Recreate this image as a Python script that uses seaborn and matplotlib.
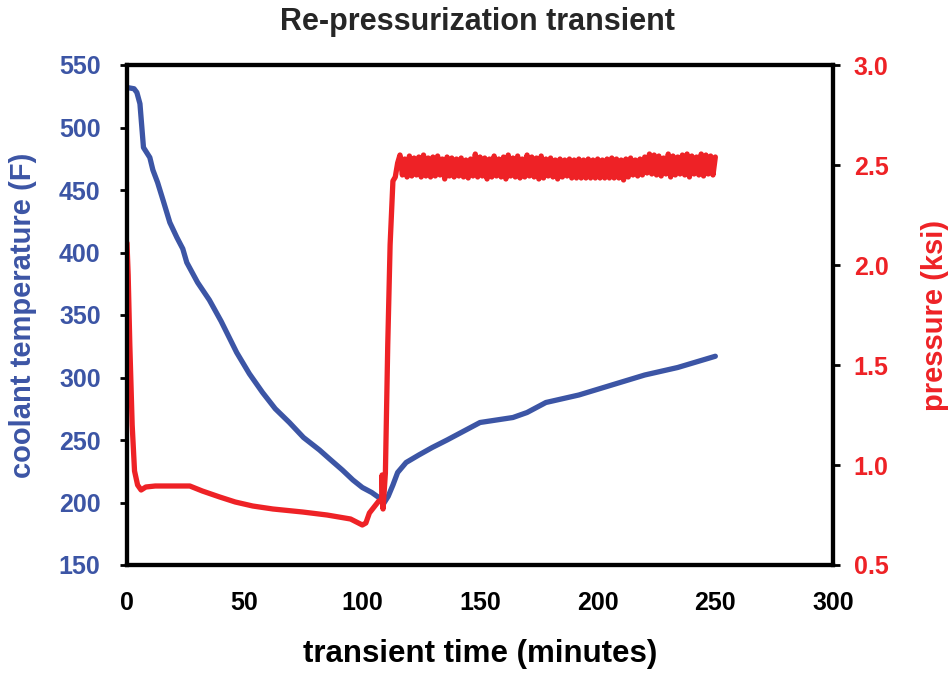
import numpy as np
import pandas as pd
import seaborn as sns
import matplotlib
matplotlib.use("Agg")
import matplotlib.pyplot as plt

# coolant temperature (F) vs transient time (minutes)
temp_time = [0, 3, 4.2, 5.5, 6.4, 7, 9.7, 11, 13, 15.3, 18.2, 21.2, 23.7, 25.4, 30, 35, 40,
             46.6, 52, 57.6, 63, 69, 75, 81.8, 86, 91.5, 96, 100, 104, 107, 109, 111, 113,
             115, 118.6, 124, 129.7, 136, 144, 150, 164, 170, 178, 192, 206, 220, 234, 250]
temp_vals = [532, 531, 528, 519, 498, 484, 476, 466, 456, 442, 424, 412, 403, 392, 376, 362, 345,
             320, 303, 288, 275, 264, 252, 242, 235, 226, 218, 212, 208, 204, 199, 205, 214,
             224, 232, 238, 244, 250, 258, 264, 268, 272, 280, 286, 294, 302, 308, 317]

# pressure (ksi) before the plateau
press_time = [0, 0.5, 1.2, 2.2, 3.2, 4.5, 6, 8, 12, 20, 26.7, 32, 39.4, 46, 53.4, 62, 74.6,
              85, 95, 100, 101.5, 103, 107, 108.2, 108.4, 108.8, 109.8, 110.8, 111.8, 113,
              114, 115]
press_vals = [2.11, 1.95, 1.6, 1.2, 0.97, 0.9, 0.875, 0.89, 0.895, 0.895, 0.895, 0.87, 0.84,
              0.815, 0.795, 0.78, 0.765, 0.75, 0.73, 0.70, 0.71, 0.76, 0.82, 0.82, 0.95, 0.78,
              0.96, 1.6, 2.1, 2.42, 2.44, 2.51]

# noisy plateau after re-pressurization: upper / lower swings
plateau_hi = [2.55, 2.53, 2.545, 2.535, 2.54, 2.55, 2.535, 2.54, 2.545, 2.53,
              2.54, 2.535, 2.53, 2.535, 2.525, 2.53, 2.555, 2.54, 2.535, 2.53,
              2.545, 2.53, 2.54, 2.55, 2.535, 2.545, 2.53, 2.55, 2.54, 2.535,
              2.545, 2.53, 2.535, 2.525, 2.53, 2.525, 2.53, 2.525, 2.53, 2.525,
              2.53, 2.525, 2.53, 2.525, 2.53, 2.535, 2.53, 2.525, 2.53, 2.535,
              2.525, 2.53, 2.54, 2.555, 2.55, 2.545, 2.535, 2.555, 2.545, 2.54,
              2.55, 2.555, 2.545, 2.54, 2.555, 2.55, 2.545, 2.54]
plateau_lo = [2.45, 2.44, 2.445, 2.45, 2.44, 2.445, 2.44, 2.445, 2.45, 2.43,
              2.445, 2.44, 2.445, 2.44, 2.435, 2.445, 2.44, 2.445, 2.43, 2.44,
              2.445, 2.44, 2.43, 2.445, 2.44, 2.435, 2.44, 2.445, 2.44, 2.43,
              2.435, 2.445, 2.44, 2.43, 2.44, 2.445, 2.435, 2.435, 2.435, 2.435,
              2.435, 2.435, 2.435, 2.435, 2.435, 2.435, 2.435, 2.425, 2.44, 2.45,
              2.445, 2.45, 2.46, 2.455, 2.45, 2.445, 2.455, 2.44, 2.45, 2.455,
              2.45, 2.44, 2.455, 2.45, 2.445, 2.455, 2.45]

# hi samples every 2 min from 116, lo samples in between
hi_t = np.arange(116, 251, 2)
lo_t = hi_t[:-1] + 1
plat_t = np.empty(len(hi_t) + len(lo_t))
plat_p = np.empty(len(hi_t) + len(lo_t))
plat_t[0::2], plat_t[1::2] = hi_t, lo_t
plat_p[0::2], plat_p[1::2] = plateau_hi, plateau_lo

temp_df = pd.DataFrame({"time": temp_time, "temp": temp_vals})
press_df = pd.DataFrame({"time": np.concatenate([press_time, plat_t]),
                         "pressure": np.concatenate([press_vals, plat_p])})

blue = "#3C55A5"
red = "#EE2226"

sns.set_style("white")
plt.rcParams["font.family"] = ["Liberation Sans", "DejaVu Sans"]
plt.rcParams["font.weight"] = "bold"

fig = plt.figure(figsize=(9.51, 6.73), dpi=100)
ax = fig.add_axes([127 / 951, 1 - 565 / 673, 706 / 951, 500 / 673])
ax2 = ax.twinx()

sns.lineplot(data=temp_df, x="time", y="temp", ax=ax, color=blue, lw=3.8,
             sort=False, estimator=None)
sns.lineplot(data=press_df, x="time", y="pressure", ax=ax2, color=red, lw=3.8,
             sort=False, estimator=None)

ax.set_xlim(0, 300)
ax.set_ylim(150, 550)
ax2.set_ylim(0.5, 3.0)
ax.set_xticks(np.arange(0, 301, 50))
ax.set_yticks(np.arange(150, 551, 50))
ax2.set_yticks(np.arange(0.5, 3.01, 0.5))
ax2.set_yticklabels([f"{v:.1f}" for v in np.arange(0.5, 3.01, 0.5)])

for a in (ax, ax2):
    for s in a.spines.values():
        s.set_visible(True)
        s.set_color("black")
        s.set_linewidth(3)

ax.tick_params(axis="x", direction="out", length=5, width=2, color="black",
               labelsize=18, pad=14, labelcolor="black")
ax.tick_params(axis="y", direction="out", length=5, width=2, color="black",
               labelsize=18, pad=14, labelcolor=blue, left=True)
ax2.tick_params(axis="y", direction="out", length=5, width=2, color="black",
                labelsize=18, pad=10, labelcolor=red, right=True)

ax.set_xlabel("transient time (minutes)", fontsize=22.5, fontweight="bold", color="black")
ax.set_ylabel("coolant temperature (F)", fontsize=21, fontweight="bold", color=blue)
ax2.set_ylabel("pressure (ksi)", fontsize=21, fontweight="bold", color=red, rotation=90)
ax.xaxis.set_label_coords(0.5, -0.148)
ax.yaxis.set_label_coords(-0.127, 0.5)
ax2.yaxis.set_label_coords(1.125, 0.5)

fig.text(477 / 951, 1 - 22 / 673, "Re-pressurization transient", fontsize=22,
         fontweight="bold", ha="center", va="center")

fig.savefig("out.png", dpi=100)
